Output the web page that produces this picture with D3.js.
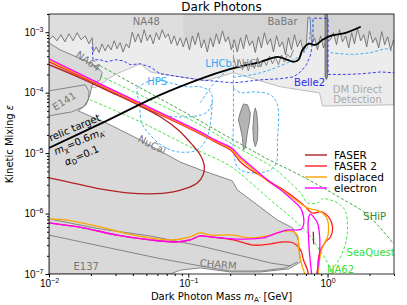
<!DOCTYPE html>
<html>
<head>
<meta charset="utf-8">
<script src="https://cdn.jsdelivr.net/npm/d3@7"></script>
<style>
body { margin: 0; background: #fff; }
svg { font-family: "DejaVu Sans", sans-serif; }
</style>
</head>
<body>
<script>
// axis ranges and ticks
var massRange = [0.01, 3],
    epsRange = [1e-7, 2e-3];
var xMajor = [0.01, 0.1, 1],
    xMinor = [0.02,0.03,0.04,0.05,0.06,0.07,0.08,0.09,0.2,0.3,0.4,0.5,0.6,0.7,0.8,0.9,2,3];
var yMajor = [1e-7, 1e-6, 1e-5, 1e-4, 1e-3],
    yMinor = [2e-7,3e-7,4e-7,5e-7,6e-7,7e-7,8e-7,9e-7,2e-6,3e-6,4e-6,5e-6,6e-6,7e-6,8e-6,9e-6,
              2e-5,3e-5,4e-5,5e-5,6e-5,7e-5,8e-5,9e-5,2e-4,3e-4,4e-4,5e-4,6e-4,7e-4,8e-4,9e-4,2e-3];

// excluded regions  [mass GeV, epsilon]
var directDetection = [[0.01,2e-3],[3,2e-3],[3,6.3e-5],[0.921,6.0e-5],[0.876,9.9e-5],[0.459,1.25e-4],
    [0.211,2.13e-4],[0.132,1.57e-4],[0.0533,2.2e-4],[0.0452,3.0e-4],[0.0299,2.0e-4],[0.0214,1.2e-4],
    [0.0182,1.35e-4],[0.01,1.07e-4]];
var na48 = [[0.0100,7.5e-4],[0.0107,8.7e-4],[0.0114,7.2e-4],[0.0122,9.1e-4],[0.0130,6.9e-4],[0.0139,9.4e-4],
    [0.0149,7.2e-4],[0.0159,9.8e-4],[0.0170,7.5e-4],[0.0182,8.7e-4],[0.0194,6.4e-4],[0.0204,8.1e-4],
    [0.0208,4.7e-4],[0.0218,5.7e-4],[0.0229,4.6e-4],[0.0240,6.4e-4],[0.0253,4.9e-4],[0.0266,6.2e-4],
    [0.0279,5.1e-4],[0.0294,7.2e-4],[0.0308,5.3e-4],[0.0324,6.7e-4],[0.0340,4.7e-4],[0.0358,6.4e-4],
    [0.0376,5.5e-4],[0.0396,1.0e-3],[0.0416,6.9e-4],[0.0437,9.4e-4],[0.0459,6.7e-4],[0.0482,1.1e-3],
    [0.0507,7.2e-4],[0.0533,9.1e-4],[0.0560,6.4e-4],[0.0589,9.8e-4],[0.0618,7.5e-4],[0.0650,1.1e-3],
    [0.0684,8.1e-4],[0.0718,9.4e-4],[0.0755,6.4e-4],[0.0793,8.7e-4],[0.0834,6.0e-4],[0.0876,8.1e-4]];
var babar = [[0.0920,5.7e-4],[0.0967,8.1e-4],[0.102,5.1e-4],[0.107,8.7e-4],[0.112,6.2e-4],[0.118,9.8e-4],
    [0.124,5.5e-4],[0.130,7.5e-4],[0.137,4.7e-4],[0.144,8.1e-4],[0.151,5.7e-4],[0.159,9.4e-4],[0.167,6.4e-4],
    [0.176,1.05e-3],[0.185,6.9e-4],[0.194,8.4e-4],[0.204,5.1e-4],[0.214,7.5e-4],[0.225,4.7e-4],[0.237,8.1e-4],
    [0.249,5.3e-4],[0.261,9.1e-4],[0.275,6.0e-4],[0.289,7.2e-4],[0.303,4.6e-4],[0.319,8.4e-4],[0.335,5.5e-4],
    [0.352,9.8e-4],[0.370,6.2e-4],[0.389,7.8e-4],[0.409,4.7e-4],[0.430,8.7e-4],[0.452,5.7e-4],[0.475,6.9e-4],
    [0.499,4.2e-4],[0.524,8.1e-4],[0.551,5.1e-4],[0.579,9.1e-4],[0.608,5.7e-4],[0.640,7.5e-4],[0.672,4.7e-4],
    [0.706,6.4e-4],[0.724,1.76e-3],[0.748,1.76e-3],[0.767,6.2e-4],[0.806,8.1e-4],[0.847,5.1e-4],[0.891,8.7e-4],
    [0.936,5.5e-4],[0.967,6.9e-4],[1.05,7.5e-4],[1.10,9.8e-4],[1.16,6.2e-4],[1.22,1.10e-3],[1.28,6.9e-4],
    [1.35,8.7e-4],[1.42,5.5e-4],[1.49,9.8e-4],[1.56,6.4e-4],[1.64,1.14e-3],[1.73,7.2e-4],[1.82,9.1e-4],
    [1.91,5.7e-4],[2.00,1.05e-3],[2.11,6.7e-4],[2.21,8.1e-4],[2.33,5.5e-4],[2.45,1.02e-3],[2.57,6.2e-4],
    [2.70,8.4e-4],[2.84,5.1e-4],[2.98,7.5e-4],[3.0,6.9e-4]];
var resonanceBar = [[0.96,2e-3],[1.0,2e-3],[1.0,1.82e-4],[0.98,1.65e-4],[0.96,1.82e-4]];
var lhcbOld = [[0.211,3.9e-4],[0.221,2.6e-4],[0.233,3.5e-4],[0.245,2.4e-4],[0.257,3.2e-4],[0.270,2.3e-4],
    [0.284,3.35e-4],[0.298,2.5e-4],[0.314,3.8e-4],[0.330,2.7e-4],[0.347,3.5e-4],[0.364,2.8e-4],[0.383,4.0e-4],
    [0.402,3.0e-4],[0.423,3.8e-4],[0.444,2.9e-4],[0.467,4.2e-4],[0.491,3.2e-4],[0.515,4.3e-4],[0.542,3.8e-4],
    [0.569,5.1e-4]];
var beamDump = [[0.0100,6.67e-4],[0.0120,5.11e-4],[0.0176,3.49e-4],[0.0221,2.67e-4],[0.0241,2.13e-4],
    [0.0233,1.63e-4],[0.0204,1.35e-4],[0.0197,9.2e-5],[0.0185,6.3e-5],[0.0162,5.0e-5],[0.0275,2.93e-5],
    [0.0452,1.65e-5],[0.0876,7.1e-6],[0.122,5.3e-6],[0.207,3.47e-6],[0.225,2.46e-6],[0.437,7.8e-7],
    [0.560,5.8e-7],[0.618,3.66e-7],[0.640,1.58e-7],[0.524,1.21e-7],[0.330,1.08e-7],[0.200,1.08e-7],
    [0.122,1.26e-7],[0.0876,1.16e-7],[0.0743,1e-7],[0.01,1e-7]];
var e141 = [[0.01,1.07e-4],[0.0182,1.35e-4],[0.0194,1.03e-4],[0.0191,7.6e-5],[0.0176,5.8e-5],[0.0146,4.81e-5],
    [0.0110,4.3e-5],[0.01,4.13e-5]];
var charmTop = [[0.01,8.15e-7],[0.0233,5.56e-7],[0.0533,4.26e-7],[0.122,2.91e-7],[0.279,1.84e-7],[0.389,1.52e-7],[0.542,1.36e-7]];
var charmBottom = [[0.01,4.4e-7],[0.0233,2.91e-7],[0.0598,1.84e-7],[0.122,1.36e-7],[0.200,1.12e-7],[0.330,1.12e-7],[0.499,1.26e-7],[0.608,1.58e-7]];
var blobA = [[0.237,4.81e-5],[0.249,6.5e-5],[0.266,6.3e-5],[0.279,4.6e-5],[0.275,3.3e-5],[0.266,2.24e-5],
    [0.257,1.22e-5],[0.249,1.13e-5],[0.245,1.79e-5],[0.237,2.6e-5],[0.229,3.55e-5]];
var blobB = [[0.303,5.6e-5],[0.311,4.46e-5],[0.316,2.6e-5],[0.314,1.65e-5],[0.303,1.27e-5],[0.294,1.65e-5],[0.291,2.6e-5],[0.296,4.46e-5]];

// future reach, dashed
var belle2 = [[0.0204,5.7e-4],[0.0207,3.5e-4],[0.0233,3.5e-4],[0.0262,3.24e-4],[0.0299,3.5e-4],[0.0341,3.36e-4],
    [0.0383,2.9e-4],[0.0452,3.0e-4],[0.0533,2.67e-4],[0.0629,2.05e-4],[0.0876,1.82e-4],[0.122,1.63e-4],
    [0.211,1.45e-4],[0.330,1.63e-4],[0.459,1.7e-4],[0.569,1.82e-4],[0.640,2.2e-4],[0.706,2.9e-4],[0.755,4.2e-4],
    [0.786,7.5e-4],[0.786,1.7e-3],[1.008,1.7e-3],[1.008,2.0e-4],[1.35,2.0e-4],[1.73,2.05e-4],[2.41,2.2e-4],[3.0,2.13e-4]];
var lhcbEdge = [[0.211,7.5e-4],[0.211,1.1e-4]];
var lhcbLeft = [[0.122,6.8e-5],[0.144,1.2e-4],[0.167,1.76e-4],[0.194,2.4e-4],[0.211,2.6e-4]];
var lhcbMid = [[0.211,1.8e-4],[0.294,2.0e-4],[0.389,2.4e-4],[0.542,3.3e-4],[0.640,4.1e-4],[0.718,5.6e-4],[0.755,1.7e-3]];
var lhcbRight = [[1.05,4.6e-4],[1.46,4.3e-4],[2.04,4.6e-4],[2.70,5.3e-4],[3.0,4.6e-4]];
var hpsLoop = [[0.043,1.2e-4],[0.0507,1.51e-4],[0.0598,1.63e-4],[0.0743,1.45e-4],[0.0984,1.25e-4],[0.122,1.25e-4],
    [0.144,1.03e-4],[0.149,7.6e-5],[0.137,4.8e-5],[0.112,4.1e-5],[0.0806,4.0e-5],[0.0579,4.6e-5],[0.0459,6.5e-5],
    [0.043,9.2e-5],[0.043,1.2e-4]];
var hpsLower = [[0.0452,6.3e-5],[0.0459,3.3e-5],[0.0533,2.0e-5],[0.065,1.32e-5],[0.0834,1.05e-5],[0.116,1.13e-5],
    [0.137,1.85e-5],[0.146,3.97e-5],[0.149,7.6e-5]];
var lhcbLoop = [[0.211,1.2e-4],[0.237,1.0e-4],[0.303,1.03e-4],[0.389,9.2e-5],[0.437,6.3e-5],[0.437,1.65e-5],
    [0.423,6.4e-6],[0.358,4.9e-6],[0.257,4.9e-6],[0.225,5.9e-6],[0.211,1.13e-5],[0.211,3.55e-5],[0.211,1.2e-4]];
var ship = [[0.0233,2.78e-4],[0.0452,1.2e-4],[0.0876,5.2e-5],[0.211,1.65e-5],[0.370,8.0e-6],[0.569,4.9e-6],
    [0.847,3.0e-6],[1.24,1.81e-6],[1.94,9.5e-7],[2.98,3.14e-7]];
var seaquest = [[0.0233,1.89e-4],[0.0533,7.6e-5],[0.122,2.93e-5],[0.237,1.17e-5],[0.409,5.7e-6],[0.542,3.21e-6],
    [0.640,2.2e-6],[0.718,1.5e-6],[0.847,1.5e-6],[0.921,1.75e-6],[1.05,1.68e-6],[1.24,1.39e-6],[1.35,1.06e-6],
    [1.39,5.35e-7],[1.35,3.26e-7],[1.24,1.91e-7],[1.086,1.16e-7],[1.017,7.4e-8]];
var na62 = [[0.0197,7.6e-5],[0.0452,3.3e-5],[0.103,1.27e-5],[0.200,6.1e-6],[0.279,3.3e-6],[0.389,1.68e-6],
    [0.542,8.8e-7],[0.718,4.8e-7],[0.847,2.8e-7],[1.00,1.52e-7],[1.10,7.4e-8]];

// relic target
var relic = [[0.0100,1.22e-5],[0.0233,3.04e-5],[0.0629,9.2e-5],[0.128,1.76e-4],[0.191,2.38e-4],[0.330,3.24e-4],
    [0.437,3.92e-4],[0.515,3.49e-4],[0.569,3.24e-4],[0.618,3.49e-4],[0.661,5.11e-4],[0.730,6.43e-4],
    [0.820,6.18e-4],[0.921,7.48e-4],[1.05,8.7e-4],[1.35,9.77e-4],[1.73,1.23e-3]];

// FASER reach curves
var faser = [[0.0100,2.9e-4],[0.0167,1.76e-4],[0.0275,1.03e-4],[0.0452,6.0e-5],[0.0629,4.0e-5],[0.0848,2.42e-5],
    [0.107,1.37e-5],[0.122,9.3e-6],[0.130,6.4e-6],[0.128,4.4e-6],[0.116,3.2e-6],[0.0984,2.65e-6],[0.078,2.28e-6],
    [0.0533,2.11e-6],[0.0364,2.2e-6],[0.0233,2.55e-6],[0.0149,3.2e-6],[0.0100,3.9e-6]];
var faserIsland = [[0.79,5.0e-7],[0.795,3.1e-7]];
var faser2 = [[0.0100,3.24e-4],[0.0233,1.30e-4],[0.0533,5.2e-5],[0.122,2.08e-5],[0.156,1.53e-5],[0.204,1.09e-5],
    [0.237,7.14e-6],[0.279,5.3e-6],[0.314,4.53e-6],[0.409,3.09e-6],[0.482,2.46e-6],[0.608,1.68e-6],[0.695,1.29e-6],
    [0.755,1.06e-6],[0.793,1.02e-6],[0.861,1.06e-6],[0.921,1.06e-6],[1.017,8.8e-7],[1.086,6.0e-7],[1.05,4.1e-7],
    [0.967,3.39e-7],[0.891,2.5e-7],[0.861,1.84e-7],[0.847,1.16e-7],[0.820,7.4e-8],[0.755,7.4e-8],[0.718,1.16e-7],
    [0.672,1.71e-7],[0.640,2.5e-7],[0.569,3.26e-7],[0.482,3.39e-7],[0.389,3.14e-7],[0.294,3.0e-7],[0.211,3.66e-7],
    [0.144,4.1e-7],[0.122,4.26e-7],[0.103,3.66e-7],[0.0834,3.39e-7],[0.0533,3.66e-7],[0.0308,4.4e-7],
    [0.0176,5.8e-7],[0.0100,7.0e-7]];
var displaced = [[0.0100,3.43e-4],[0.0233,1.35e-4],[0.0533,5.4e-5],[0.122,2.16e-5],[0.156,1.59e-5],[0.204,1.15e-5],
    [0.237,8.0e-6],[0.294,5.3e-6],[0.370,3.47e-6],[0.482,2.37e-6],[0.589,1.68e-6],[0.695,1.29e-6],[0.755,1.19e-6],
    [0.820,1.15e-6],[0.921,1.02e-6],[1.00,7.8e-7],[1.017,5.35e-7],[1.00,4.1e-7],[0.952,3.26e-7],[0.905,2.5e-7],
    [0.876,1.71e-7],[0.861,1.16e-7],[0.847,7.4e-8],[0.730,7.4e-8],[0.672,1.16e-7],[0.640,1.71e-7],[0.618,2.8e-7],
    [0.608,4.4e-7],[0.542,5.15e-7],[0.459,4.95e-7],[0.370,4.26e-7],[0.279,3.95e-7],[0.211,4.4e-7],[0.144,4.4e-7],
    [0.122,4.8e-7],[0.103,4.1e-7],[0.078,3.66e-7],[0.0533,3.95e-7],[0.0402,4.4e-7],[0.0233,6.0e-7],
    [0.0135,7.8e-7],[0.0100,8.15e-7]];
var electron = [[0.0100,3.63e-4],[0.0233,1.40e-4],[0.0533,5.6e-5],[0.122,2.24e-5],[0.156,1.65e-5],[0.204,1.22e-5],
    [0.237,8.65e-6],[0.294,5.69e-6],[0.370,3.6e-6],[0.482,2.28e-6],[0.569,1.62e-6],[0.640,1.24e-6],[0.672,8.8e-7],
    [0.672,6.5e-7],[0.650,5.56e-7],[0.608,5.35e-7],[0.515,5.35e-7],[0.437,4.8e-7],[0.347,3.95e-7],[0.279,3.8e-7],
    [0.211,3.8e-7],[0.144,4.1e-7],[0.122,4.26e-7],[0.103,3.66e-7],[0.0834,3.39e-7],[0.0533,3.66e-7],
    [0.0308,4.4e-7],[0.0176,5.8e-7],[0.0100,7.0e-7]];
var electronPeak = [[0.78,7.4e-8],[0.745,2.0e-7],[0.73,4.1e-7],[0.73,8.5e-7],[0.755,9.8e-7],[0.793,8.8e-7],
    [0.847,7.0e-7],[0.876,4.4e-7],[0.876,2.2e-7],[0.847,1.16e-7],[0.82,7.4e-8]];

var legendNames = ["FASER", "FASER 2", "displaced", "electron"];

var width = 407, height = 305,
    margin = {top: 14, right: 13, bottom: 31, left: 49};

var svg = d3.select("body").append("svg")
    .attr("width", width)
    .attr("height", height);

var x = d3.scaleLog().domain(massRange).range([margin.left, width - margin.right]);
var y = d3.scaleLog().domain(epsRange).range([height - margin.bottom, margin.top]);

var line = d3.line().x(function(d){ return x(d[0]); }).y(function(d){ return y(d[1]); });
var smooth = d3.line().x(function(d){ return x(d[0]); }).y(function(d){ return y(d[1]); })
    .curve(d3.curveCatmullRom.alpha(0.5));

svg.append("clipPath").attr("id", "plotclip").append("rect")
    .attr("x", margin.left).attr("y", margin.top)
    .attr("width", width - margin.left - margin.right)
    .attr("height", height - margin.top - margin.bottom);

var plot = svg.append("g").attr("clip-path", "url(#plotclip)");

function region(data, fill, stroke){
    plot.append("path").attr("d", line(data) + "Z")
        .attr("fill", fill).attr("stroke", stroke).attr("stroke-width", 0.9);
}
function curve(data, color, w, dash, gen){
    plot.append("path").attr("d", (gen || line)(data))
        .attr("fill", "none").attr("stroke", color).attr("stroke-width", w)
        .attr("stroke-dasharray", dash || null).attr("stroke-linejoin", "round");
}

// grey excluded regions
region(directDetection, "#ececec", "#b5b5b5");
region([[0.01, 2e-3]].concat(na48, [[0.0920,5.7e-4],[0.0920,2e-3]]), "#dedede", "none");
region([[0.0920, 2e-3]].concat(babar, [[3, 2e-3]]), "#d4d4d4", "none");
curve(na48.concat(babar), "#6e6e6e", 0.9);
curve(lhcbOld, "#7a7a7a", 0.9);
region(resonanceBar, "#8a8a8a", "#6e6e6e");
region(beamDump, "#d9d9d9", "#7a7a7a");
curve(e141, "#7a7a7a", 0.9);
curve(charmTop, "#7a7a7a", 0.9);
curve(charmBottom, "#7a7a7a", 0.9);
region(blobA, "#b4b4b4", "#777");
region(blobB, "#b4b4b4", "#777");

// dashed projections
var lightBlue = "#2fa8f5", darkBlue = "#2a2ae8";
curve(lhcbEdge, lightBlue, 0.9, "3,2");
curve(lhcbLeft, lightBlue, 0.9, "3,2", smooth);
curve(lhcbMid, lightBlue, 0.9, "3,2", smooth);
curve(lhcbRight, lightBlue, 0.9, "3,2", smooth);
curve(hpsLoop, lightBlue, 0.9, "3,2", smooth);
curve(hpsLower, lightBlue, 0.9, "3,2", smooth);
curve(lhcbLoop, lightBlue, 0.9, "3,2", smooth);
curve(belle2, darkBlue, 0.9, "3,2");
curve(ship, "#2e9a2e", 0.9, "3,2", smooth);
curve(seaquest, "#35e035", 0.9, "3,2", smooth);
curve(na62, "#35e035", 0.9, "3,2", smooth);

// FASER curves
var colors = ["#b22222", "#ff2020", "#ffa500", "#ff00ff"];
curve(faser, colors[0], 1.3, null, smooth);
curve(faserIsland, colors[0], 1.3);
curve(faser2, colors[1], 1.3, null, smooth);
curve(displaced, colors[2], 1.3, null, smooth);
curve(electron, colors[3], 1.3, null, smooth);
curve(electronPeak, colors[3], 1.3, null, smooth);

// relic target
curve(relic, "#000", 1.8, null, smooth);

// region labels
var labels = [
    {t: "NA48", m: 0.05, e: 1.3e-3, c: "#777"},
    {t: "BaBar", m: 0.475, e: 1.33e-3, c: "#777"},
    {t: "NA64", m: 0.0192, e: 2.9e-4, c: "#777", r: 35},
    {t: "E141", m: 0.0128, e: 6.3e-5, c: "#777", r: -32},
    {t: "NuCal", m: 0.0551, e: 1.2e-5, c: "#777", r: 27},
    {t: "E137", m: 0.0185, e: 1.16e-7, c: "#777"},
    {t: "CHARM", m: 0.164, e: 1.26e-7, c: "#777", r: 5},
    {t: "DM Direct", m: 1.64, e: 9.9e-5, c: "#aaa"},
    {t: "Detection", m: 1.64, e: 6.8e-5, c: "#aaa"},
    {t: "LHCb", m: 0.165, e: 2.67e-4, c: lightBlue},
    {t: "LHCb", m: 0.275, e: 2.67e-4, c: "#888"},
    {t: "HPS", m: 0.0598, e: 1.35e-4, c: lightBlue},
    {t: "Belle2", m: 0.743, e: 1.28e-4, c: darkBlue},
    {t: "SHiP", m: 2.18, e: 7.8e-7, c: "#2e8b2e"},
    {t: "SeaQuest", m: 2.04, e: 2.0e-7, c: "#35e035"},
    {t: "NA62", m: 1.24, e: 1.04e-7, c: "#35e035"}
];
labels.forEach(function(l){
    var px = x(l.m), py = y(l.e);
    plot.append("text").attr("x", px).attr("y", py)
        .attr("text-anchor", "middle").attr("font-size", 10).attr("fill", l.c)
        .attr("transform", l.r ? "rotate(" + l.r + "," + px + "," + (py - 4) + ")" : null)
        .text(l.t);
});

// relic annotation
function relicText(m, e, parts){
    var px = x(m), py = y(e);
    var t = plot.append("text").attr("x", px).attr("y", py).attr("font-size", 10)
        .attr("transform", "rotate(-23," + px + "," + py + ")");
    parts.forEach(function(p){
        t.append("tspan").attr("font-size", p.s || 10).attr("dy", p.dy || 0)
            .attr("font-style", p.i ? "italic" : null).text(p.t);
    });
}
relicText(0.0103, 1.55e-5, [{t: "relic target"}]);
relicText(0.0112, 9.3e-6, [{t: "m", i: 1}, {t: "\u03c7", s: 7, dy: 2}, {t: "=0.6", dy: -2}, {t: "m", i: 1}, {t: "A\u2032", s: 7, dy: 2}]);
relicText(0.0133, 6.2e-6, [{t: "\u03b1", i: 1}, {t: "D", s: 7, dy: 2}, {t: "=0.1", dy: -2}]);

// legend
var lg = svg.append("g");
legendNames.forEach(function(n, i){
    var ly = 155 + i * 11;
    lg.append("line").attr("x1", 305).attr("x2", 327).attr("y1", ly).attr("y2", ly)
        .attr("stroke", colors[i]).attr("stroke-width", 1.4);
    lg.append("text").attr("x", 334).attr("y", ly + 4).attr("font-size", 10.5).text(n);
});

// frame
svg.append("rect").attr("x", margin.left).attr("y", margin.top)
    .attr("width", width - margin.left - margin.right)
    .attr("height", height - margin.top - margin.bottom)
    .attr("fill", "none").attr("stroke", "#000").attr("stroke-width", 0.8);

// axes
function supLabel(sel, v){
    var p = Math.round(Math.log10(v));
    sel.text("");
    sel.append("tspan").text("10");
    sel.append("tspan").attr("font-size", 7).attr("dy", -4).text(p < 0 ? "\u2212" + (-p) : String(p));
}
var xAxis = svg.append("g").attr("transform", "translate(0," + (height - margin.bottom) + ")")
    .call(d3.axisBottom(x).tickValues(xMajor).tickSize(3.5).tickPadding(2).tickFormat(function(){ return ""; }));
xAxis.selectAll(".tick text").attr("font-size", 10).attr("fill", "#000")
    .each(function(d){ supLabel(d3.select(this), d); });
svg.append("g").attr("transform", "translate(0," + (height - margin.bottom) + ")")
    .call(d3.axisBottom(x).tickValues(xMinor).tickSize(2).tickFormat(function(){ return ""; }));
var yAxis = svg.append("g").attr("transform", "translate(" + margin.left + ",0)")
    .call(d3.axisLeft(y).tickValues(yMajor).tickSize(3.5).tickPadding(2).tickFormat(function(){ return ""; }));
yAxis.selectAll(".tick text").attr("font-size", 10).attr("fill", "#000")
    .each(function(d){ supLabel(d3.select(this), d); });
svg.append("g").attr("transform", "translate(" + margin.left + ",0)")
    .call(d3.axisLeft(y).tickValues(yMinor).tickSize(2).tickFormat(function(){ return ""; }));
svg.selectAll(".domain").remove();

// titles
svg.append("text").attr("x", (margin.left + width - margin.right) / 2).attr("y", 11)
    .attr("text-anchor", "middle").attr("font-size", 12).text("Dark Photons");
var xl = svg.append("text").attr("x", (margin.left + width - margin.right) / 2).attr("y", 300)
    .attr("text-anchor", "middle").attr("font-size", 10);
xl.append("tspan").text("Dark Photon Mass ");
xl.append("tspan").attr("font-style", "italic").text("m");
xl.append("tspan").attr("font-size", 7).attr("dy", 2).text("A\u2032");
xl.append("tspan").attr("dy", -2).text(" [GeV]");
var yl = svg.append("text").attr("transform", "translate(13," + ((margin.top + height - margin.bottom) / 2) + ") rotate(-90)")
    .attr("text-anchor", "middle").attr("font-size", 10);
yl.append("tspan").text("Kinetic Mixing ");
yl.append("tspan").attr("font-style", "italic").text("\u03b5");
</script>
</body>
</html>
